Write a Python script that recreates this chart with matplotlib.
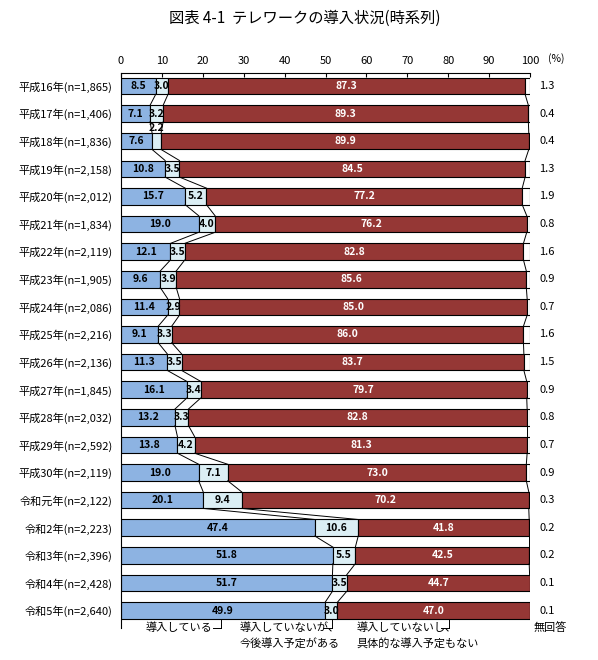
import numpy as np
import matplotlib.pyplot as plt

plt.rcParams['font.family'] = ['Noto Sans CJK JP', 'DejaVu Sans']

# datos
etiquetas = [
    "平成16年(n=1,865)", "平成17年(n=1,406)", "平成18年(n=1,836)", "平成19年(n=2,158)",
    "平成20年(n=2,012)", "平成21年(n=1,834)", "平成22年(n=2,119)", "平成23年(n=1,905)",
    "平成24年(n=2,086)", "平成25年(n=2,216)", "平成26年(n=2,136)", "平成27年(n=1,845)",
    "平成28年(n=2,032)", "平成29年(n=2,592)", "平成30年(n=2,119)", "令和元年(n=2,122)",
    "令和2年(n=2,223)", "令和3年(n=2,396)", "令和4年(n=2,428)", "令和5年(n=2,640)",
]
introducido = [8.5, 7.1, 7.6, 10.8, 15.7, 19.0, 12.1, 9.6, 11.4, 9.1,
               11.3, 16.1, 13.2, 13.8, 19.0, 20.1, 47.4, 51.8, 51.7, 49.9]
planeado = [3.0, 3.2, 2.2, 3.5, 5.2, 4.0, 3.5, 3.9, 2.9, 3.3,
            3.5, 3.4, 3.3, 4.2, 7.1, 9.4, 10.6, 5.5, 3.5, 3.0]
sin_plan = [87.3, 89.3, 89.9, 84.5, 77.2, 76.2, 82.8, 85.6, 85.0, 86.0,
            83.7, 79.7, 82.8, 81.3, 73.0, 70.2, 41.8, 42.5, 44.7, 47.0]
sin_resp = [1.3, 0.4, 0.4, 1.3, 1.9, 0.8, 1.6, 0.9, 0.7, 1.6,
            1.5, 0.9, 0.8, 0.7, 0.9, 0.3, 0.2, 0.2, 0.1, 0.1]

series = [introducido, planeado, sin_plan, sin_resp]
colores = ["#8db3e2", "#dbeef4", "#953735", "#ffffff"]

fig = plt.figure(figsize=(5.98, 6.6), dpi=100)
ax = fig.add_axes([121 / 598, 1 - 628 / 660, 409 / 598, 555 / 660])

n = len(etiquetas)
y = np.arange(n)
alto = 0.6

izq = np.zeros(n)
for vals, col in zip(series, colores):
    ax.barh(y, vals, left=izq, height=alto, color=col, edgecolor="black", linewidth=0.8)
    izq = izq + np.array(vals)

# lineas de conexion entre barras
bordes = np.cumsum(np.array(series[:3]), axis=0)
bordes = np.vstack([bordes, np.full(n, 100.0)])
for i in range(n - 1):
    for b in bordes:
        ax.plot([b[i], b[i + 1]], [i + alto / 2, i + 1 - alto / 2], color="black", lw=0.7)

# etiquetas de valores
for i in range(n):
    a, b, c = introducido[i], planeado[i], sin_plan[i]
    ax.text(a / 2, i, f"{a:.1f}", ha="center", va="center", fontsize=7.5,
            fontweight="bold", color="black")
    yb = i - 0.47 if i == 2 else i
    ax.text(a + b / 2, yb, f"{b:.1f}", ha="center", va="center", fontsize=7.5,
            fontweight="bold", color="black")
    ax.text(a + b + c / 2, i, f"{c:.1f}", ha="center", va="center", fontsize=7.5,
            fontweight="bold", color="white")
    ax.text(102.3, i, f"{sin_resp[i]:.1f}", ha="left", va="center", fontsize=8)

ax.set_xlim(0, 100)
ax.set_ylim(n - 1 + 0.63, -0.47)
ax.set_yticks(y)
ax.set_yticklabels(etiquetas, fontsize=8)
ax.tick_params(axis="y", length=0, pad=6)
ax.xaxis.tick_top()
ax.set_xticks(np.arange(0, 101, 10))
ax.tick_params(axis="x", direction="in", length=3, labelsize=8, pad=5)
for s in ["right", "bottom"]:
    ax.spines[s].set_visible(False)
ax.spines["top"].set_linewidth(0.8)
ax.spines["left"].set_linewidth(0.8)

ax.text(104.3, -0.99, "(%)", ha="left", va="center", fontsize=7.5, clip_on=False)

# leyenda inferior con corchetes
fondo = n - 1 + alto / 2
yl = n - 1 + 0.62
corchetes = [24.5, 51.5, 80.3]
for xb in corchetes:
    ax.plot([xb, xb], [fondo, yl], color="black", lw=0.7, clip_on=False)
    ax.plot([xb - 2, xb], [yl, yl], color="black", lw=0.7, clip_on=False)

ax.text(22.3, yl, "導入している", ha="right", va="center", fontsize=8, clip_on=False)
ax.text(29.0, yl, "導入していないが、", ha="left", va="center", fontsize=8, clip_on=False)
ax.text(29.0, yl + 0.55, "今後導入予定がある", ha="left", va="center", fontsize=8, clip_on=False)
ax.text(57.5, yl, "導入していないし、", ha="left", va="center", fontsize=8, clip_on=False)
ax.text(57.5, yl + 0.55, "具体的な導入予定もない", ha="left", va="center", fontsize=8, clip_on=False)
ax.text(100.8, yl, "無回答", ha="left", va="center", fontsize=8, clip_on=False)

fig.text(305 / 598, 1 - 18 / 660, "図表 4-1  テレワークの導入状況(時系列)", ha="center",
         va="center", fontsize=11)

fig.savefig("out.png", dpi=100)
